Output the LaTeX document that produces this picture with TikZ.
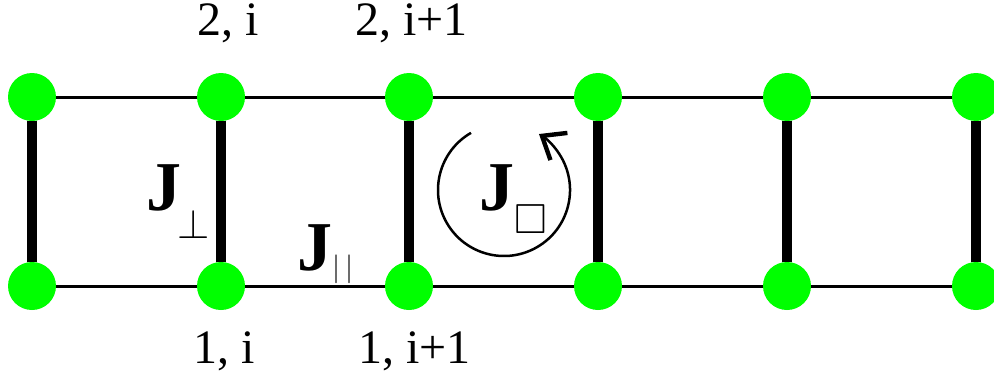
\documentclass[tikz,border=0pt]{standalone}
\usepackage{fontspec}
\setmainfont{Liberation Serif}
\usepackage{amssymb}
\usetikzlibrary{arrows.meta}
\tikzset{
  site/.style={circle, fill=green, inner sep=0pt, minimum size=24pt},
  leg/.style={line width=1.5pt},
  rung/.style={line width=5pt},
  lbl/.style={inner sep=0pt, anchor=base west, font=\fontsize{24}{28}\selectfont},
  coup/.style={inner sep=0pt, anchor=base west, font=\fontsize{35}{40}\selectfont\bfseries},
}
\newcommand{\lowsub}[2]{\raisebox{#1}{\fontsize{20}{20}\selectfont\mdseries #2}}
\begin{document}
\begin{tikzpicture}[x=0.5pt, y=-0.5pt]
    \useasboundingbox (0, 0) rectangle (994, 391);
    % sites, leg 2 on top, leg 1 below
    \node[site] (s2-1) at (32, 97) {};
    \node[site] (s2-2) at (221, 97) {};
    \node[site] (s2-3) at (409, 97) {};
    \node[site] (s2-4) at (598, 97) {};
    \node[site] (s2-5) at (787, 97) {};
    \node[site] (s2-6) at (976, 97) {};
    \node[site] (s1-1) at (32, 286) {};
    \node[site] (s1-2) at (221, 286) {};
    \node[site] (s1-3) at (409, 286) {};
    \node[site] (s1-4) at (598, 286) {};
    \node[site] (s1-5) at (787, 286) {};
    \node[site] (s1-6) at (976, 286) {};
    % legs
    \draw[leg] (s2-1) -- (s2-2);
    \draw[leg] (s2-2) -- (s2-3);
    \draw[leg] (s2-3) -- (s2-4);
    \draw[leg] (s2-4) -- (s2-5);
    \draw[leg] (s2-5) -- (s2-6);
    \draw[leg] (s1-1) -- (s1-2);
    \draw[leg] (s1-2) -- (s1-3);
    \draw[leg] (s1-3) -- (s1-4);
    \draw[leg] (s1-4) -- (s1-5);
    \draw[leg] (s1-5) -- (s1-6);
    % rungs
    \draw[rung] (s1-1) -- (s2-1);
    \draw[rung] (s1-2) -- (s2-2);
    \draw[rung] (s1-3) -- (s2-3);
    \draw[rung] (s1-4) -- (s2-4);
    \draw[rung] (s1-5) -- (s2-5);
    \draw[rung] (s1-6) -- (s2-6);
    % site labels
    \node[lbl] (top-i) at (197, 35) {2, i};
    \node[lbl] (top-ip) at (355, 35) {2, i+1};
    \node[lbl] (bot-i) at (193, 363) {1, i};
    \node[lbl] (bot-ip) at (358, 363) {1, i+1};
    % couplings
    \node[coup] (jperp) at (146, 210) {J\hspace{-2pt}\lowsub{-14pt}{$\perp$}};
    \node[coup] (jpar) at (297, 270) {J\lowsub{-3pt}{\fontsize{14}{14}\selectfont$|\hspace{2.5pt}|$}};
    \node[coup] (jring) at (479, 210) {J\lowsub{-11.5pt}{\fontsize{21}{21}\selectfont$\square$}};
    % ring exchange
    \coordinate (ringc) at (504, 190);
    \draw[line width=1.25pt, -{Straight Barb[length=10pt, width=16pt, line width=2.2pt]}]
        (ringc) ++(120:33pt) arc[start angle=120, end angle=418, radius=33pt];
\end{tikzpicture}
\end{document}
